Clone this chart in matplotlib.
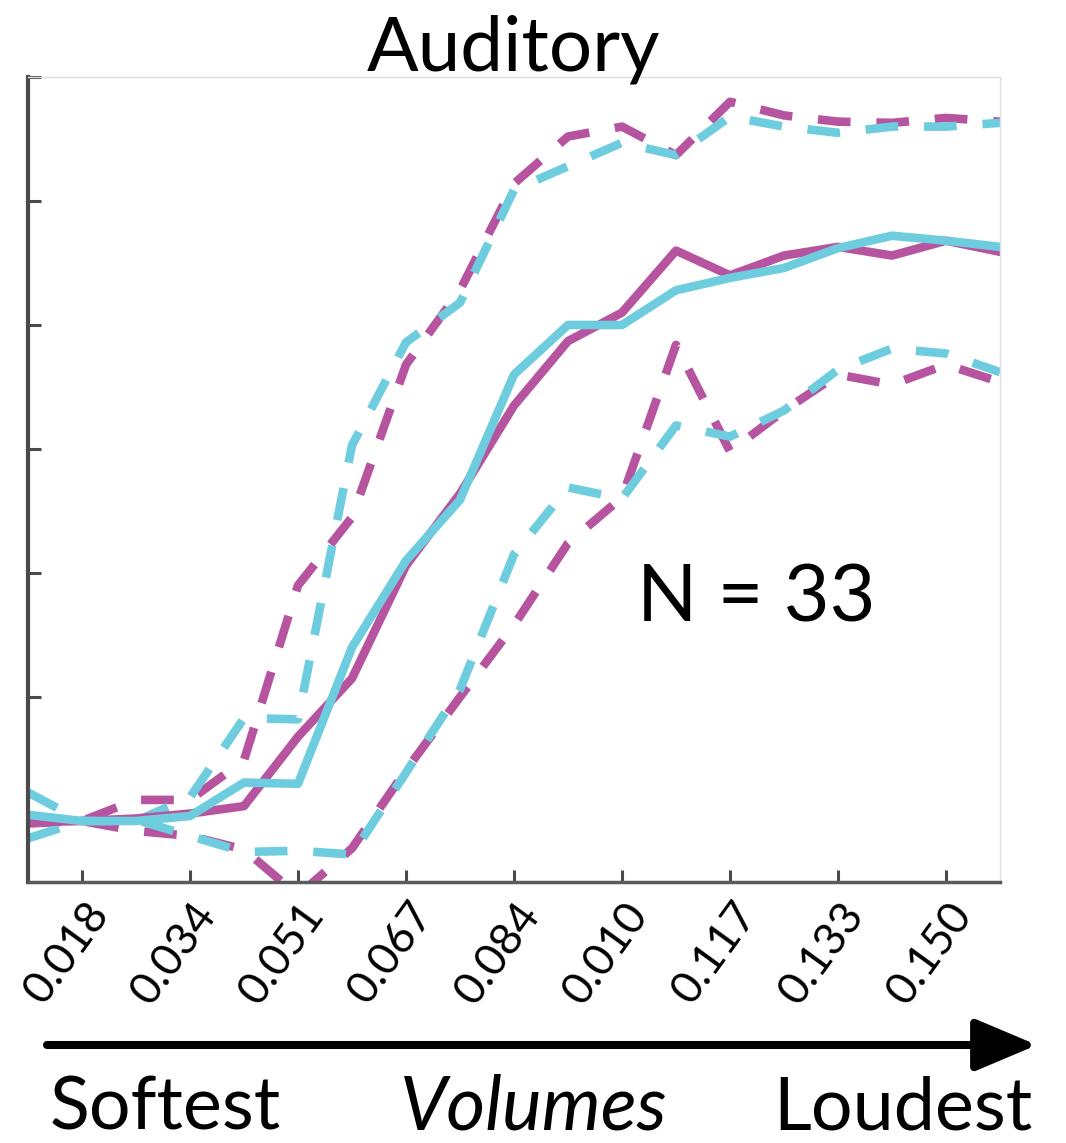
import numpy as np
import matplotlib
matplotlib.use("Agg")
import matplotlib.pyplot as plt
from matplotlib.transforms import ScaledTranslation

plt.rcParams['font.family'] = ['Lato', 'DejaVu Sans']

# volume levels (index), ticks on every other level
levels = np.arange(19)
tick_pos = [1, 3, 5, 7, 9, 11, 13, 15, 17]
tick_labels = ['0.018', '0.034', '0.051', '0.067', '0.084', '0.010', '0.117', '0.133', '0.150']

# proportion of responses, mean and bounds for the two groups
mag_mean = [-0.001, 0.000, 0.002, 0.006, 0.012, 0.068, 0.115, 0.206, 0.264, 0.335,
            0.387, 0.410, 0.460, 0.440, 0.456, 0.463, 0.456, 0.468, 0.459]
mag_upper = [0.002, 0.000, 0.017, 0.017, 0.049, 0.190, 0.245, 0.368, 0.428, 0.514,
             0.552, 0.560, 0.537, 0.580, 0.569, 0.564, 0.563, 0.567, 0.564]
mag_lower = [-0.002, 0.000, -0.008, -0.012, -0.023, -0.060, -0.022, 0.041, 0.100, 0.158,
             0.224, 0.261, 0.384, 0.298, 0.331, 0.360, 0.352, 0.368, 0.354]

cyan_mean = [0.005, 0.000, 0.000, 0.004, 0.031, 0.030, 0.140, 0.210, 0.259, 0.360,
             0.400, 0.400, 0.428, 0.438, 0.446, 0.462, 0.472, 0.468, 0.463]
cyan_upper = [0.023, 0.000, 0.000, 0.019, 0.083, 0.082, 0.303, 0.386, 0.418, 0.509,
              0.528, 0.547, 0.537, 0.568, 0.560, 0.555, 0.560, 0.560, 0.563]
cyan_lower = [-0.014, 0.000, 0.001, -0.012, -0.025, -0.024, -0.027, 0.039, 0.106, 0.215,
              0.269, 0.260, 0.319, 0.310, 0.331, 0.364, 0.381, 0.377, 0.362]

magenta = '#B7549F'
cyan = '#6DCDDE'

W, H = 1066, 1143
fig = plt.figure(figsize=(W / 100, H / 100), dpi=100)
ax = fig.add_axes([28 / W, 1 - 882 / H, (1000 - 28) / W, (882 - 77) / H])

lw = 6.2
dash = (3.8, 3.0)
ax.plot(levels, mag_upper, color=magenta, lw=lw, ls=(0, dash), dash_capstyle='butt')
ax.plot(levels, mag_lower, color=magenta, lw=lw, ls=(0, dash), dash_capstyle='butt')
ax.plot(levels, cyan_upper, color=cyan, lw=lw, ls=(0, dash), dash_capstyle='butt')
ax.plot(levels, cyan_lower, color=cyan, lw=lw, ls=(0, dash), dash_capstyle='butt')
ax.plot(levels, mag_mean, color=magenta, lw=lw)
ax.plot(levels, cyan_mean, color=cyan, lw=lw)

ax.set_xlim(0, 18)
ax.set_ylim(-0.0492, 0.6)
ax.set_yticks([0, 0.1, 0.2, 0.3, 0.4, 0.5, 0.6])
ax.set_yticklabels([])
ax.set_xticks(tick_pos)
ax.set_xticklabels(tick_labels, rotation=54, ha='right', va='center',
                   rotation_mode='anchor', fontsize=32)
ax.tick_params(axis='both', direction='in', length=9, width=2.2, colors='#4a4a4a')
ax.tick_params(axis='x', labelcolor='black', pad=18)
off = ScaledTranslation(18 / 100, 0, fig.dpi_scale_trans)
for lab in ax.get_xticklabels():
    lab.set_transform(lab.get_transform() + off)

ax.spines['left'].set_color('#4a4a4a')
ax.spines['left'].set_linewidth(3)
ax.spines['bottom'].set_color('#5a5a5a')
ax.spines['bottom'].set_linewidth(2.5)
for s in ['top', 'right']:
    ax.spines[s].set_color('#dddddd')
    ax.spines[s].set_linewidth(1)

fig.text(514 / W, 1 - 70 / H, 'Auditory', ha='center', va='baseline', fontsize=55)
fig.text(637 / W, 1 - 622 / H, 'N = 33', ha='left', va='baseline', fontsize=57)

fig.text(50 / W, 1 - 1130 / H, 'Softest', ha='left', va='baseline', fontsize=53)
fig.text(400 / W, 1 - 1130 / H, 'Volumes', ha='left', va='baseline', fontsize=54, style='italic')
fig.text(1032 / W, 1 - 1130 / H, 'Loudest', ha='right', va='baseline', fontsize=53)

ax.annotate('', xy=(1037 / W, 1 - 1045 / H), xytext=(47 / W, 1 - 1045 / H),
            xycoords='figure fraction', textcoords='figure fraction',
            arrowprops=dict(arrowstyle='-|>,head_length=0.9,head_width=0.38',
                            lw=5.8, color='black', mutation_scale=42,
                            shrinkA=0, shrinkB=0))

fig.savefig('out.png', dpi=100)
